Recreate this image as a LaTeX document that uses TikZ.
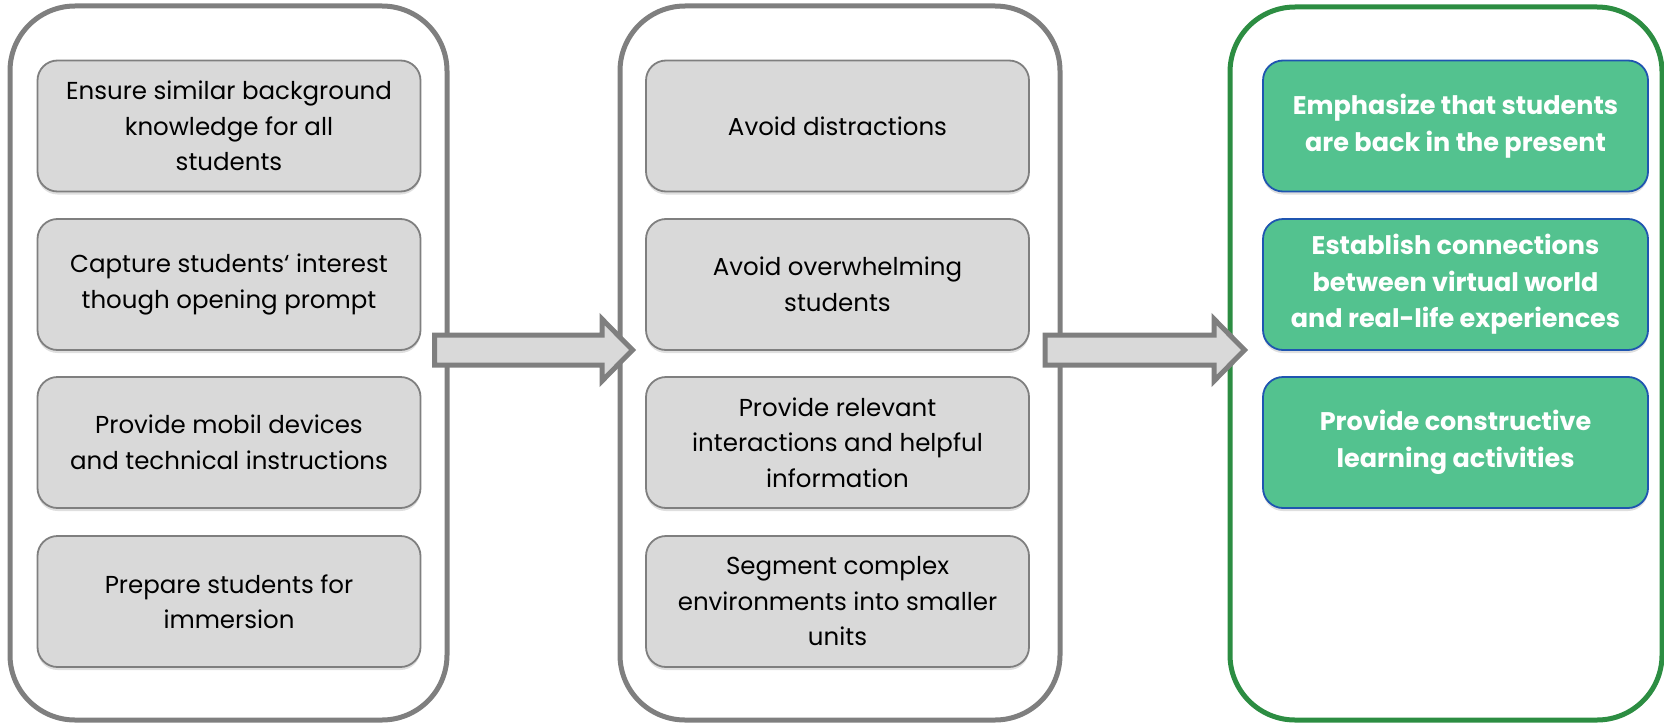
\documentclass[tikz,border=0pt]{standalone}
\usepackage{fontspec}
\setmainfont{Poppins}
\usetikzlibrary{shadows}
\definecolor{grayline}{HTML}{7F7F7F}
\definecolor{boxfill}{HTML}{D9D9D9}
\definecolor{greenline}{HTML}{2C8D42}
\definecolor{greenfill}{HTML}{53C28F}
\definecolor{blueline}{HTML}{1F55B0}
\begin{document}
\begin{tikzpicture}[x=1pt,y=-1pt,
  outer/.style={draw=grayline,line width=5pt,rounded corners=65pt},
  outergreen/.style={draw=greenline,line width=5pt,rounded corners=65pt},
  item/.style={draw=grayline,line width=1.8pt,fill=boxfill,rounded corners=20pt,
    minimum width=383pt,minimum height=131pt,align=center,
    font=\fontsize{24.5}{35.5}\selectfont,
    drop shadow={opacity=0.25,shadow xshift=0pt,shadow yshift=-3pt}},
  gitem/.style={item,draw=blueline,fill=greenfill,text=white,minimum width=385pt,
    font=\fontsize{25.5}{36.5}\selectfont\bfseries},
  blockarrow/.style={draw=grayline,fill=boxfill,line width=5pt,line join=miter}]
\useasboundingbox (0,0) rectangle (1664,725);
% outer containers
\draw[outer] (10,6) rectangle (447,720);
\draw[outer] (620,6) rectangle (1060,720);
\draw[outergreen] (1230,7) rectangle (1662,720);
% left column
\node[item] (l1) at (229,126) {Ensure similar background\\knowledge for all\\students};
\node[item] (l2) at (229,284.5) {Capture students‘ interest\\though opening prompt};
\node[item] (l3) at (229,442.5) {Provide mobil devices\\and technical instructions};
\node[item] (l4) at (229,601.5) {Prepare students for\\immersion};
% middle column
\node[item] (m1) at (837.5,126) {Avoid distractions};
\node[item] (m2) at (837.5,284.5) {Avoid overwhelming\\students};
\node[item] (m3) at (837.5,442.5) {Provide relevant\\interactions and helpful\\information};
\node[item] (m4) at (837.5,601.5) {Segment complex\\environments into smaller\\units};
% right column
\node[gitem] (r1) at (1455.5,126) {Emphasize that students\\are back in the present};
\node[gitem] (r2) at (1455.5,284.5) {Establish connections\\between virtual world\\and real-life experiences};
\node[gitem] (r3) at (1455.5,442.5) {Provide constructive\\learning activities};
% block arrows
\draw[blockarrow] (434.5,335) -- (602,335) -- (602,319) -- (632.5,350) -- (602,381) -- (602,365) -- (434.5,365) -- cycle;
\draw[blockarrow] (1045,335) -- (1214,335) -- (1214,319) -- (1244.5,350) -- (1214,381) -- (1214,365) -- (1045,365) -- cycle;
\end{tikzpicture}
\end{document}
